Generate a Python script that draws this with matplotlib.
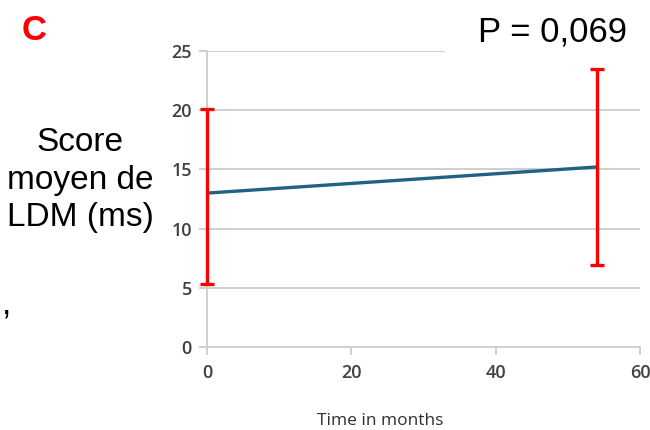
import matplotlib
matplotlib.use("Agg")
import matplotlib.pyplot as plt
from matplotlib.patches import Rectangle

# Mean LDM score over follow-up
months = [0, 54]
mean_score = [13.0, 15.2]
err_low = [5.3, 6.95]
err_high = [20.05, 23.45]

x_ticks = [0, 20, 40, 60]
y_ticks = [0, 5, 10, 15, 20, 25]

panel_label = "C"
p_value_text = "P = 0,069"
y_label = "Score\nmoyen de\nLDM (ms)"
x_label = "Time in months"

grid_col = "#cfcfcf"
tick_col = "#404040"
line_col = "#1f6283"
err_col = "#ff0000"

fig = plt.figure(figsize=(6.5, 4.3), dpi=100)
ax = fig.add_axes([0.3185, 0.1923, 0.6661, 0.6897])

ax.set_xlim(0, 60)
ax.set_ylim(0, 25)

ax.plot(months, mean_score, color=line_col, lw=2.4, solid_capstyle="butt", zorder=3)
yerr = [[m - lo for m, lo in zip(mean_score, err_low)],
        [hi - m for m, hi in zip(mean_score, err_high)]]
ax.errorbar(months, mean_score, yerr=yerr, fmt="none", ecolor=err_col,
            elinewidth=2.4, capsize=4.7, capthick=2.4, zorder=4, clip_on=False)

ax.set_xticks(x_ticks)
ax.set_yticks(y_ticks)
ax.yaxis.grid(True, color=grid_col, lw=1.4)
ax.set_axisbelow(True)
for side in ("top", "right"):
    ax.spines[side].set_visible(False)
for side in ("left", "bottom"):
    ax.spines[side].set_color(grid_col)
    ax.spines[side].set_linewidth(1.4)
ax.tick_params(axis="both", color=grid_col, width=1.4, length=6,
               labelcolor=tick_col, labelsize=13)
ax.tick_params(axis="y", pad=5)
ax.tick_params(axis="x", pad=6)
for lab in ax.get_xticklabels() + ax.get_yticklabels():
    lab.set_fontfamily("Open Sans")
    lab.set_fontweight("semibold")

fig.text(380 / 650, 1 - 421 / 430, x_label, ha="center", va="center",
         fontsize=12.5, color="#303030", family="Open Sans")

# Text box behind the p-value hides the end of the top gridline
fig.patches.append(Rectangle((445 / 650, 1 - 60 / 430), 205 / 650, 60 / 430,
                             transform=fig.transFigure, facecolor="white",
                             edgecolor="none", zorder=5))
fig.text(627 / 650, 1 - 41 / 430, p_value_text, ha="right", va="baseline",
         fontsize=25, color="black", family="Liberation Sans", zorder=6)

fig.text(22 / 650, 1 - 40 / 430, panel_label, ha="left", va="baseline",
         fontsize=25, color=err_col, fontweight="bold", family="Liberation Sans")

fig.text(80 / 650, 1 - 180 / 430, y_label, ha="center", va="center",
         fontsize=24, color="black", family="Liberation Sans",
         multialignment="center", linespacing=1.28)

fig.text(2 / 650, 1 - 305 / 430, ",", ha="left", va="center",
         fontsize=24, color="black", family="Liberation Sans")

fig.savefig("out.png", dpi=100)
